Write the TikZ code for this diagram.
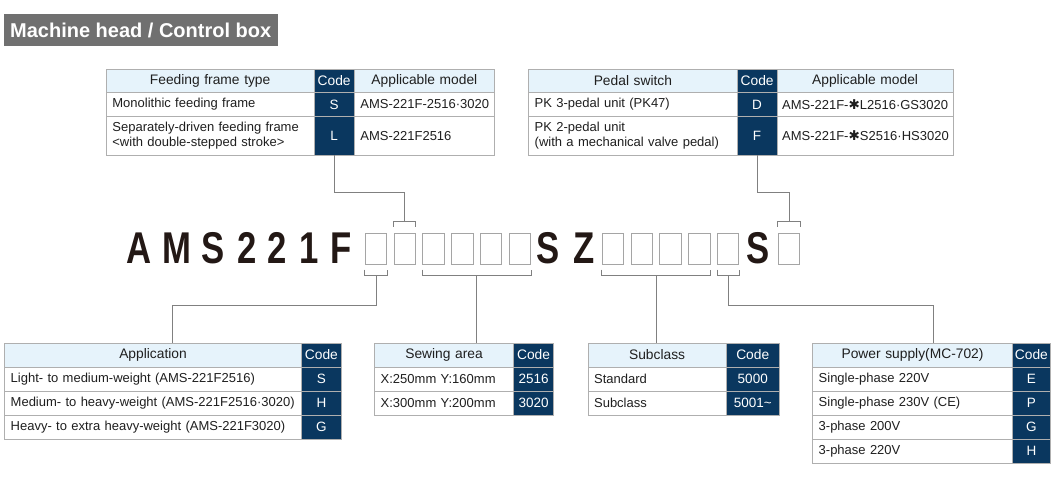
\documentclass[tikz,border=0pt]{standalone}
\usepackage{fontspec}
\setmainfont{Liberation Sans}
\newfontfamily\djv{DejaVu Sans}
\usepackage{graphicx}
\usetikzlibrary{calc}
\definecolor{navy}{RGB}{10,55,95}
\definecolor{hdrc}{RGB}{230,243,251}
\definecolor{bordc}{RGB}{175,175,175}
\definecolor{titc}{RGB}{112,112,112}
\definecolor{connc}{RGB}{128,128,128}
\definecolor{boxc}{RGB}{165,165,165}
\definecolor{ink}{RGB}{35,24,21}
\newcommand\hfont{\fontsize{13.8}{16}\selectfont}
\newcommand\rfont{\fontsize{13}{15.6}\selectfont}
\newcommand\cfont{\fontsize{13.5}{16}\selectfont}
\newcommand\heavyast{{\djv\fontsize{13.5}{13}\selectfont\raisebox{-0.3pt}{✱}}}
\newcommand\tcell[8]{%
  \pgfmathsetmacro\celltw{#5-2*#7}%
  \node[#2, anchor=north west, minimum width=#5pt, minimum height=#6pt, inner xsep=#7pt, text width=\celltw pt] (#1) at (#3,#4) {#8};}
\begin{document}
\begin{tikzpicture}[x=1pt,y=-1pt,
  cellb/.style={draw=bordc, line width=0.8pt, inner ysep=0pt,
    execute at begin node={\hyphenpenalty=10000\exhyphenpenalty=10000}},
  hdr/.style={cellb, fill=hdrc, font=\hfont, align=center, text=black!88},
  codeh/.style={cellb, fill=navy, text=white, font=\hfont, align=center},
  codec/.style={cellb, fill=navy, text=white, font=\cfont, align=center},
  txt/.style={cellb, fill=white, font=\rfont, align=left, text=black!88},
  title/.style={fill=titc, text=white, font=\fontsize{20}{24}\selectfont\bfseries, inner sep=0pt, anchor=north west},
  cbox/.style={draw=boxc, line width=1pt, minimum width=21.3pt, minimum height=31pt, inner sep=0pt},
  bigch/.style={font=\fontsize{44.5}{50}\selectfont\bfseries, text=ink, inner sep=0pt, anchor=base},
  conn/.style={draw=connc, line width=1pt}]
\fill[white] (0,0) rectangle (1060,501);
\useasboundingbox (0,0) rectangle (1060,501);

% title
\node[title, minimum width=274.4pt, minimum height=31.7pt] (title) at (3.3,14) {Machine head / Control box};

% table 1
\tcell{t1h1}{hdr}{106}{69}{207.5}{23}{1}{Feeding frame type}
\tcell{t1hc}{codeh}{313.5}{69}{40.5}{23}{1}{Code}
\tcell{t1h3}{hdr}{354}{69}{140}{23}{1}{Applicable model}
\tcell{t1a1}{txt}{106}{92}{207.5}{24}{6}{Monolithic feeding frame}
\tcell{t1c1}{codec}{313.5}{92}{40.5}{24}{1}{S}
\tcell{t1m1}{txt}{354}{92}{140}{24}{6}{AMS-221F-2516·3020}
\tcell{t1a2}{txt}{106}{116}{207.5}{38.5}{6}{Separately-driven feeding frame\\<with double-stepped stroke>}
\tcell{t1c2}{codec}{313.5}{116}{40.5}{38.5}{1}{L}
\tcell{t1m2}{txt}{354}{116}{140}{38.5}{6}{AMS-221F2516}

% table 2
\tcell{t2h1}{hdr}{528.3}{69}{208.4}{23}{1}{Pedal switch}
\tcell{t2hc}{codeh}{736.7}{69}{40}{23}{1}{Code}
\tcell{t2h3}{hdr}{776.7}{69}{176}{23}{1}{Applicable model}
\tcell{t2a1}{txt}{528.3}{92}{208.4}{24}{6}{PK 3-pedal unit (PK47)}
\tcell{t2c1}{codec}{736.7}{92}{40}{24}{1}{D}
\tcell{t2m1}{txt}{776.7}{92}{176}{24}{5}{AMS-221F-\heavyast L2516·GS3020}
\tcell{t2a2}{txt}{528.3}{116}{208.4}{38.5}{6}{PK 2-pedal unit\\(with a mechanical valve pedal)}
\tcell{t2c2}{codec}{736.7}{116}{40}{38.5}{1}{F}
\tcell{t2m2}{txt}{776.7}{116}{176}{38.5}{5}{AMS-221F-\heavyast S2516·HS3020}

% table 3
\tcell{t3h1}{hdr}{4.3}{342.7}{296.7}{23.8}{1}{Application}
\tcell{t3hc}{codeh}{301}{342.7}{40}{23.8}{1}{Code}
\tcell{t3a1}{txt}{4.3}{366.5}{296.7}{24}{6}{Light- to medium-weight (AMS-221F2516)}
\tcell{t3c1}{codec}{301}{366.5}{40}{24}{1}{S}
\tcell{t3a2}{txt}{4.3}{390.5}{296.7}{24}{6}{Medium- to heavy-weight (AMS-221F2516·3020)}
\tcell{t3c2}{codec}{301}{390.5}{40}{24}{1}{H}
\tcell{t3a3}{txt}{4.3}{414.5}{296.7}{24}{6}{Heavy- to extra heavy-weight (AMS-221F3020)}
\tcell{t3c3}{codec}{301}{414.5}{40}{24}{1}{G}

% table 4
\tcell{t4h1}{hdr}{374.3}{342.7}{138.7}{23.8}{1}{Sewing area}
\tcell{t4hc}{codeh}{513}{342.7}{40.3}{23.8}{1}{Code}
\tcell{t4a1}{txt}{374.3}{366.5}{138.7}{24}{6}{X:250mm Y:160mm}
\tcell{t4c1}{codec}{513}{366.5}{40.3}{24}{1}{2516}
\tcell{t4a2}{txt}{374.3}{390.5}{138.7}{24}{6}{X:300mm Y:200mm}
\tcell{t4c2}{codec}{513}{390.5}{40.3}{24}{1}{3020}

% table 5
\tcell{t5h1}{hdr}{587.7}{342.7}{138}{23.8}{1}{Subclass}
\tcell{t5hc}{codeh}{725.7}{342.7}{53.3}{23.8}{1}{Code}
\tcell{t5a1}{txt}{587.7}{366.5}{138}{24}{6}{Standard}
\tcell{t5c1}{codec}{725.7}{366.5}{53.3}{24}{1}{5000}
\tcell{t5a2}{txt}{587.7}{390.5}{138}{24}{6}{Subclass}
\tcell{t5c2}{codec}{725.7}{390.5}{53.3}{24}{1}{5001\textasciitilde}

% table 6
\tcell{t6h1}{hdr}{812.3}{342.7}{199.7}{23.8}{1}{Power supply(MC-702)}
\tcell{t6hc}{codeh}{1012}{342.7}{38}{23.8}{1}{Code}
\tcell{t6a1}{txt}{812.3}{366.5}{199.7}{24}{6}{Single-phase 220V}
\tcell{t6c1}{codec}{1012}{366.5}{38}{24}{1}{E}
\tcell{t6a2}{txt}{812.3}{390.5}{199.7}{24}{6}{Single-phase 230V (CE)}
\tcell{t6c2}{codec}{1012}{390.5}{38}{24}{1}{P}
\tcell{t6a3}{txt}{812.3}{414.5}{199.7}{24}{6}{3-phase 200V}
\tcell{t6c3}{codec}{1012}{414.5}{38}{24}{1}{G}
\tcell{t6a4}{txt}{812.3}{438.5}{199.7}{24}{6}{3-phase 220V}
\tcell{t6c4}{codec}{1012}{438.5}{38}{24}{1}{H}

% model code characters
\node[bigch] (ch1) at (139,263) {\scalebox{0.78}[1]{A}};
\node[bigch] (ch2) at (177,263) {\scalebox{0.78}[1]{M}};
\node[bigch] (ch3) at (213,263) {\scalebox{0.78}[1]{S}};
\node[bigch] (ch4) at (247,263) {\scalebox{0.78}[1]{2}};
\node[bigch] (ch5) at (277,263) {\scalebox{0.78}[1]{2}};
\node[bigch] (ch6) at (309,263) {\scalebox{0.78}[1]{1}};
\node[bigch] (ch7) at (341,263) {\scalebox{0.78}[1]{F}};
\node[bigch] (ch8) at (548,263) {\scalebox{0.78}[1]{S}};
\node[bigch] (ch9) at (584,263) {\scalebox{0.78}[1]{Z}};
\node[bigch] (ch10) at (758,263) {\scalebox{0.78}[1]{S}};

% code boxes
\foreach \i/\x in {1/376,2/404.8,3/433.6,4/462.4,5/491.2,6/520,7/613,8/641.8,9/670.6,10/699.4,11/728.2,12/789}
  \node[cbox] (b\i) at (\x,248.5) {};

% brackets above
\draw[conn] ([yshift=6pt]b2.north west) -- ([yshift=11.3pt]b2.north west) -- ([yshift=11.3pt]b2.north east) -- ([yshift=6pt]b2.north east);
\coordinate (bt2) at ([yshift=11.3pt]b2.north);
\draw[conn] ([yshift=6pt]b12.north west) -- ([yshift=11.3pt]b12.north west) -- ([yshift=11.3pt]b12.north east) -- ([yshift=6pt]b12.north east);
\coordinate (bt12) at ([yshift=11.3pt]b12.north);

% brackets below
\draw[conn] ([yshift=-5pt]b1.south west) -- ([yshift=-11pt]b1.south west) -- ([yshift=-11pt]b1.south east) -- ([yshift=-5pt]b1.south east);
\coordinate (bl1) at ([yshift=-11pt]b1.south);
\draw[conn] ([yshift=-5pt]b3.south west) -- ([yshift=-11pt]b3.south west) -- ([yshift=-11pt]b6.south east) -- ([yshift=-5pt]b6.south east);
\coordinate (bl36) at ($([yshift=-11pt]b3.south west)!0.5!([yshift=-11pt]b6.south east)$);
\draw[conn] ([yshift=-5pt]b7.south west) -- ([yshift=-11pt]b7.south west) -- ([yshift=-11pt]b10.south east) -- ([yshift=-5pt]b10.south east);
\coordinate (bl710) at ($([yshift=-11pt]b7.south west)!0.5!([yshift=-11pt]b10.south east)$);
\draw[conn] ([yshift=-5pt]b11.south west) -- ([yshift=-11pt]b11.south west) -- ([yshift=-11pt]b11.south east) -- ([yshift=-5pt]b11.south east);
\coordinate (bl11) at ([yshift=-11pt]b11.south);

% connectors
\draw[conn] (t1c2.south) -- ++(0,37.2) -| (bt2);
\draw[conn] (t2c2.south) -- ++(0,37.2) -| (bt12);
\draw[conn] (bl1) -- ++(0,30) -| ([xshift=19.7pt]t3h1.north);
\draw[conn] (bl36) -- (bl36 |- t4h1.north);
\draw[conn] (bl710) -- (bl710 |- t5h1.north);
\draw[conn] (bl11) -- ++(0,30) -| ([xshift=21.2pt]t6h1.north);
\end{tikzpicture}
\end{document}
